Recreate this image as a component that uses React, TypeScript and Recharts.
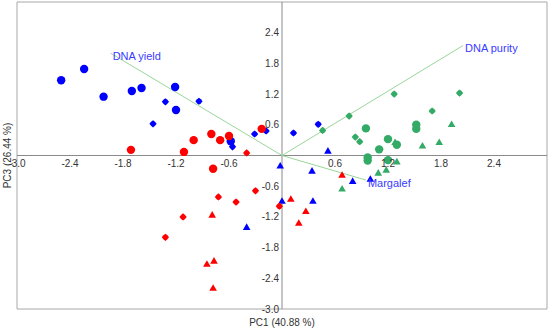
import React from 'react';
import {
  ScatterChart,
  Scatter,
  XAxis,
  YAxis,
  ReferenceLine,
  ReferenceArea,
  ReferenceDot,
} from 'recharts';

interface Pt {
  x: number;
  y: number;
}

// PCA scores
const blueCircles: Pt[] = [
  { x: -2.5, y: 1.47 }, { x: -2.24, y: 1.69 }, { x: -2.02, y: 1.15 }, { x: -1.7, y: 1.26 },
  { x: -1.59, y: 1.32 }, { x: -1.21, y: 1.34 }, { x: -1.2, y: 0.89 }, { x: -0.58, y: 0.28 },
];
const blueDiamonds: Pt[] = [
  { x: -1.32, y: 1.05 }, { x: -0.94, y: 1.06 }, { x: -1.46, y: 0.62 }, { x: -0.56, y: 0.17 },
  { x: -0.31, y: 0.42 }, { x: -0.18, y: 0.48 }, { x: 0.13, y: 0.44 }, { x: 0.41, y: 0.61 },
];
const blueTriangles: Pt[] = [
  { x: 0.52, y: 0.09 }, { x: -0.02, y: -0.2 }, { x: 0.34, y: -0.3 }, { x: 0.8, y: -0.5 },
  { x: 1.0, y: -0.46 }, { x: 0.0, y: -0.89 }, { x: 0.35, y: -0.89 }, { x: -0.4, y: -1.4 },
];
const redCircles: Pt[] = [
  { x: -1.71, y: 0.11 }, { x: -1.11, y: 0.07 }, { x: -1.0, y: 0.3 }, { x: -0.8, y: 0.42 },
  { x: -0.7, y: 0.3 }, { x: -0.6, y: 0.38 }, { x: -0.23, y: 0.52 }, { x: -0.78, y: -0.26 },
];
const redDiamonds: Pt[] = [
  { x: -0.4, y: 0.05 }, { x: -0.72, y: -0.81 }, { x: -0.52, y: -0.91 }, { x: -0.3, y: -0.69 },
  { x: -1.12, y: -1.2 }, { x: -1.32, y: -1.6 }, { x: -0.03, y: -0.99 },
];
const redTriangles: Pt[] = [
  { x: -0.79, y: -1.16 }, { x: -0.85, y: -2.12 }, { x: -0.77, y: -2.06 }, { x: -0.78, y: -2.59 },
  { x: 0.1, y: -0.85 }, { x: 0.27, y: -1.09 }, { x: 0.19, y: -1.32 }, { x: 0.68, y: -0.38 },
];
const greenDiamonds: Pt[] = [
  { x: 0.46, y: 0.49 }, { x: 0.76, y: 0.77 }, { x: 1.27, y: 1.2 }, { x: 2.01, y: 1.22 },
  { x: 1.7, y: 0.87 }, { x: 0.83, y: 0.36 }, { x: 0.88, y: 0.27 },
];
const greenCircles: Pt[] = [
  { x: 0.95, y: 0.53 }, { x: 1.2, y: 0.32 }, { x: 1.1, y: 0.12 }, { x: 1.3, y: 0.21 },
  { x: 1.52, y: 0.52 }, { x: 1.52, y: 0.6 }, { x: 0.97, y: -0.04 }, { x: 0.97, y: -0.1 },
  { x: 1.2, y: -0.09 },
];
const greenTriangles: Pt[] = [
  { x: 1.28, y: 0.26 }, { x: 1.59, y: 0.19 }, { x: 1.78, y: 0.26 }, { x: 1.92, y: 0.61 },
  { x: 1.3, y: -0.12 }, { x: 1.09, y: -0.34 }, { x: 1.18, y: -0.28 }, { x: 0.68, y: -0.65 },
];

// loading vectors
const vectorNames = ['DNA yield', 'DNA purity', 'Margalef'];
const vectorX = [-1.94, 2.05, 0.95];
const vectorY = [2.0, 2.15, -0.48];

const xTicks = [-3.0, -2.4, -1.8, -1.2, -0.6, 0.6, 1.2, 1.8, 2.4];
const yTicks = [-3.0, -2.4, -1.8, -1.2, -0.6, 0.6, 1.2, 1.8, 2.4];

const BLUE = '#0000ff';
const RED = '#ff0000';
const GREEN = '#33aa66';
const FONT = 'Liberation Sans, Arial, sans-serif';

// plot box in px (chart margins + axis sizes)
const PLOT_LEFT = 17;
const PLOT_RIGHT = 547;
const PLOT_TOP = 2;
const PLOT_BOTTOM = 309;
const MID_X = (PLOT_LEFT + PLOT_RIGHT) / 2;
const MID_Y = (PLOT_TOP + PLOT_BOTTOM) / 2;

const Circle = (p: any) => <circle cx={p.cx} cy={p.cy} r={4.2} fill={p.fill} />;

const Diamond = (p: any) => {
  const { cx, cy } = p;
  const a = 3.6;
  const b = 2.0;
  const pts = [
    [0, -a], [b, -b], [a, 0], [b, b], [0, a], [-b, b], [-a, 0], [-b, -b],
  ]
    .map(([dx, dy]) => `${cx + dx},${cy + dy}`)
    .join(' ');
  return <polygon points={pts} fill={p.fill} />;
};

const Triangle = (p: any) => {
  const { cx, cy } = p;
  const pts = `${cx},${cy - 3.8} ${cx + 3.8},${cy + 2.8} ${cx - 3.8},${cy + 2.8}`;
  return <polygon points={pts} fill={p.fill} />;
};

const XTick = (p: any) => (
  <text x={p.x} y={MID_Y + 11} textAnchor="middle" fontSize={10} fontFamily={FONT} fill="#333">
    {Number(p.payload.value).toFixed(1)}
  </text>
);

const YTick = (p: any) => (
  <text x={MID_X - 3} y={p.y + 3.5} textAnchor="end" fontSize={10} fontFamily={FONT} fill="#333">
    {Number(p.payload.value).toFixed(1)}
  </text>
);

// vector label: starts just right of the arrow tip, a little below it
const VectorLabel = (p: any) => {
  const vb = p.viewBox || {};
  const x = vb.cx ?? vb.x;
  const y = vb.cy ?? vb.y;
  return (
    <text x={x + 2} y={y + 7} fontSize={11} fontFamily={FONT} fill="#3a3aff">
      {p.value}
    </text>
  );
};

const series = [
  { name: 'blue-circle', data: blueCircles, fill: BLUE, shape: Circle },
  { name: 'blue-diamond', data: blueDiamonds, fill: BLUE, shape: Diamond },
  { name: 'blue-triangle', data: blueTriangles, fill: BLUE, shape: Triangle },
  { name: 'red-circle', data: redCircles, fill: RED, shape: Circle },
  { name: 'red-diamond', data: redDiamonds, fill: RED, shape: Diamond },
  { name: 'red-triangle', data: redTriangles, fill: RED, shape: Triangle },
  { name: 'green-circle', data: greenCircles, fill: GREEN, shape: Circle },
  { name: 'green-diamond', data: greenDiamonds, fill: GREEN, shape: Diamond },
  { name: 'green-triangle', data: greenTriangles, fill: GREEN, shape: Triangle },
];

export default function App() {
  return (
    <div style={{ position: 'absolute', left: 0, top: 0, width: 550, height: 329, background: '#fff' }}>
      <ScatterChart
        width={550}
        height={329}
        margin={{ top: PLOT_TOP, right: 550 - PLOT_RIGHT, bottom: 0, left: 0 }}
      >
        <XAxis
          type="number"
          dataKey="x"
          domain={[-3, 3]}
          ticks={xTicks}
          interval={0}
          height={329 - PLOT_BOTTOM}
          axisLine={false}
          tickLine={false}
          tick={<XTick />}
          label={{
            value: 'PC1 (40.88 %)',
            position: 'insideBottom',
            offset: 3,
            fontSize: 10,
            fontFamily: FONT,
            fill: '#333',
          }}
        />
        <YAxis
          type="number"
          dataKey="y"
          domain={[-3, 3]}
          ticks={yTicks}
          interval={0}
          width={PLOT_LEFT}
          axisLine={false}
          tickLine={false}
          tick={<YTick />}
          label={{
            value: 'PC3 (26.44 %)',
            angle: -90,
            position: 'center',
            dx: -1,
            fontSize: 10,
            fontFamily: FONT,
            fill: '#333',
          }}
        />
        <ReferenceArea x1={-3} x2={3} y1={-3} y2={3} fill="none" stroke="#a8a8a8" strokeWidth={1} />
        <ReferenceLine x={0} stroke="#8a8a8a" />
        <ReferenceLine y={0} stroke="#8a8a8a" />
        {vectorNames.map((n, i) => (
          <ReferenceLine
            key={n}
            segment={[{ x: 0, y: 0 }, { x: vectorX[i], y: vectorY[i] }]}
            stroke="#99d699"
            strokeWidth={1}
          />
        ))}
        {series.map((s) => (
          <Scatter
            key={s.name}
            name={s.name}
            data={s.data}
            fill={s.fill}
            shape={s.shape}
            isAnimationActive={false}
          />
        ))}
        {vectorNames.map((n, i) => (
          <ReferenceDot
            key={`lbl-${n}`}
            x={vectorX[i]}
            y={vectorY[i]}
            r={0}
            stroke="none"
            fill="none"
            label={<VectorLabel value={n} />}
          />
        ))}
      </ScatterChart>
    </div>
  );
}
